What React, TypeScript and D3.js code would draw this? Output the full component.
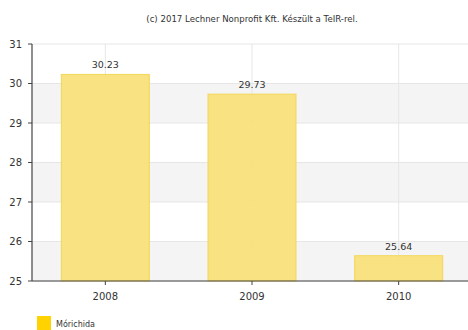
import React from "react";
import * as d3 from "d3";

const categories = ["2008", "2009", "2010"];
const values = [30.23, 29.73, 25.64];
const yTicks = [25, 26, 27, 28, 29, 30, 31];
const seriesName = "Mórichida";
const title = "(c) 2017 Lechner Nonprofit Kft. Készült a TeIR-rel.";

export default function App() {
  const W = 468, H = 330;
  const left = 32, right = 472, top = 44, bottom = 281;
  const x = d3.scaleBand<string>().domain(categories).range([left, right]).paddingInner(0).paddingOuter(0);
  const y = d3.scaleLinear().domain([25, 31]).range([bottom, top]);
  const bw = x.bandwidth() * 0.6;
  const font = "'DejaVu Sans', Verdana, sans-serif";
  return (
    <svg width={W} height={H} style={{ position: "absolute", left: 0, top: 0, display: "block" }} fontFamily={font}>
      <rect width={W} height={H} fill="#fff" />
      <text x={252} y={22} textAnchor="middle" fontSize={8.6} fill="#333">{title}</text>
      {yTicks.slice(0, -1).map((t, i) =>
        i % 2 === 0 ? (
          <rect key={"b" + t} x={left} y={y(t + 1)} width={right - left} height={y(t) - y(t + 1)} fill="#f4f4f4" />
        ) : null
      )}
      {yTicks.map((t) => (
        <line key={"g" + t} x1={left} x2={right} y1={y(t)} y2={y(t)} stroke="#e6e6e6" />
      ))}
      {categories.map((c) => (
        <line key={"v" + c} x1={x(c)! + x.bandwidth() / 2} x2={x(c)! + x.bandwidth() / 2} y1={top} y2={bottom} stroke="#e6e6e6" />
      ))}
      {categories.map((c, i) => {
        const cx = x(c)! + x.bandwidth() / 2;
        return (
          <g key={"bar" + c}>
            <rect x={cx - bw / 2} y={y(values[i])} width={bw} height={bottom - y(values[i])} fill="#f9e07a" stroke="#f3d65a" strokeWidth={1} fillOpacity={0.95} />
            <text x={cx} y={y(values[i]) - 6} textAnchor="middle" fontSize={9.5} fill="#333">{values[i].toFixed(2)}</text>
          </g>
        );
      })}
      <line x1={left} x2={left} y1={top} y2={bottom} stroke="#444" strokeWidth={1.2} />
      {yTicks.map((t) => (
        <g key={"yt" + t}>
          <line x1={left - 4} x2={left} y1={y(t)} y2={y(t)} stroke="#444" />
          <text x={22} y={y(t) + 3.5} textAnchor="end" fontSize={10} fill="#333">{t}</text>
        </g>
      ))}
      <line x1={left} x2={W} y1={bottom} y2={bottom} stroke="#444" strokeWidth={1.2} />
      {categories.map((c) => {
        const cx = x(c)! + x.bandwidth() / 2;
        return (
          <g key={"xt" + c}>
            <line x1={cx} x2={cx} y1={bottom} y2={bottom + 4} stroke="#444" />
            <text x={cx} y={bottom + 19} textAnchor="middle" fontSize={10} fill="#333">{c}</text>
          </g>
        );
      })}
      <rect x={37} y={316} width={14} height={14} fill="#ffd200" />
      <text x={56} y={327} fontSize={8} fill="#333">{seriesName}</text>
    </svg>
  );
}
